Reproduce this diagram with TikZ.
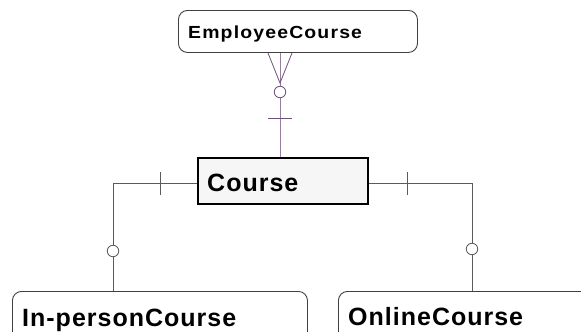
\documentclass[tikz,border=0pt]{standalone}
\usepackage{fontspec}
\setmainfont{Liberation Sans}
\newfontfamily\entfont[LetterSpace=4]{Liberation Sans}
\newfontfamily\entfontwide[LetterSpace=6]{Liberation Sans}
\definecolor{relpurple}{HTML}{9A7CA2}
\definecolor{relpurpledark}{HTML}{6E4F78}
\definecolor{relgray}{HTML}{5A5A5A}
\definecolor{boxfill}{HTML}{F6F6F6}
\begin{document}
\begin{tikzpicture}[x=1pt,y=-1pt,
  entity/.style={draw=black!75, line width=0.9pt, rounded corners=9pt, fill=white,
    anchor=north west, inner sep=0pt},
  mainentity/.style={draw=black, line width=2pt, fill=boxfill, anchor=north west, inner sep=0pt},
  label/.style={anchor=base west, inner sep=0pt},
  rel/.style={draw=relgray, line width=0.8pt},
  relp/.style={draw=relpurple, line width=0.9pt},
  relpsym/.style={draw=relpurpledark, line width=0.8pt},
  optcircle/.style={circle, fill=white, minimum size=11.5pt, inner sep=0pt}]
\useasboundingbox (0,0) rectangle (581,332);
\clip (0,0) rectangle (581,332);

% entity boxes
\node[entity, minimum width=239pt, minimum height=42pt] (emp) at (178,10) {};
\node[mainentity, minimum width=170pt, minimum height=46pt] (course) at (197,157) {};
\node[entity, minimum width=295pt, minimum height=70pt] (inp) at (12,291) {};
\node[entity, minimum width=260pt, minimum height=70pt] (onl) at (338,291) {};

% entity names
\node[label, font=\entfontwide\bfseries\fontsize{17.5}{20}\selectfont] (empT) at (188,38.5)
  {\scalebox{1.11}[1]{EmployeeCourse}};
\node[label, font=\entfont\bfseries\fontsize{25}{28}\selectfont] (courseT) at (207,191) {Course};
\node[label, font=\entfont\bfseries\fontsize{25}{28}\selectfont] (inpT) at (22,326) {In-personCourse};
\node[label, font=\entfont\bfseries\fontsize{25}{28}\selectfont] (onlT) at (348,325) {OnlineCourse};

% connector bends
\coordinate (tx) at (280,0);
\coordinate (lx) at (113,183);
\coordinate (rx) at (472,183);

% EmployeeCourse -- Course (many to one)
\draw[relp] (tx |- emp.south) -- (tx |- course.north);
\draw[relpsym] (268,53) -- (280,83) -- (292,53);
\draw[relpsym] (268,118) -- (292,118);
\node[optcircle, draw=relpurpledark, line width=0.8pt] (c0) at (280,92) {};

% Course -- In-personCourse
\draw[rel] (course.west |- lx) -- (lx) -- (lx |- inp.north);
\draw[rel] (160,172) -- (160,195);
\node[optcircle, draw=relgray, line width=0.8pt] (c1) at (113,251) {};

% Course -- OnlineCourse
\draw[rel] (course.east |- rx) -- (rx) -- (rx |- onl.north);
\draw[rel] (407,172) -- (407,195);
\node[optcircle, draw=relgray, line width=0.8pt] (c2) at (472,249) {};
\end{tikzpicture}
\end{document}
